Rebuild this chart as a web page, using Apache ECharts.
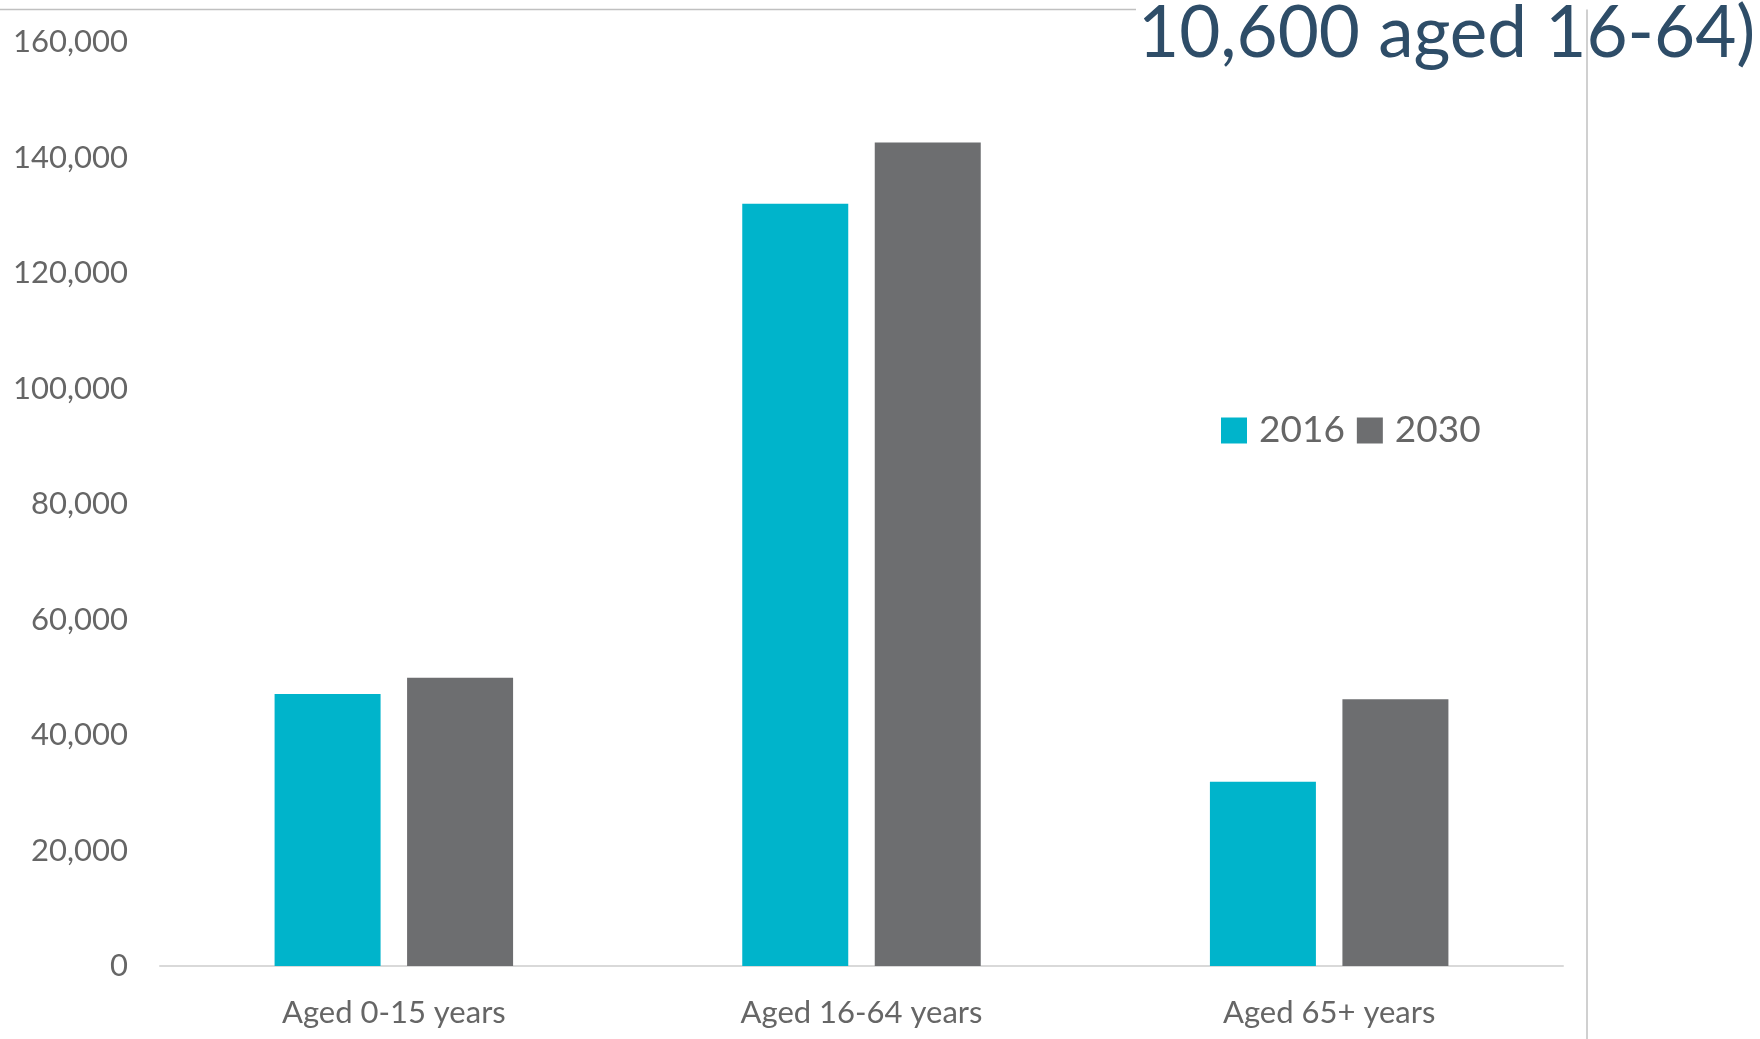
<!DOCTYPE html>
<html>
<head>
<meta charset="utf-8">
<script src="https://cdn.jsdelivr.net/npm/echarts@6/dist/echarts.min.js"></script>
<style>
html,body{margin:0;padding:0;background:#fff;}
#chart{width:1760px;height:1039px;}
</style>
</head>
<body>
<div id="chart"></div>
<script>
const categories = ['Aged 0-15 years', 'Aged 16-64 years', 'Aged 65+ years'];
const seriesNames = ['2016', '2030'];
const values2016 = [47100, 132000, 31900];
const values2030 = [49900, 142600, 46200];
const titleText = '10,600 aged 16-64)';

const FONT = 'Lato, "Open Sans", sans-serif';
const chart = echarts.init(document.getElementById('chart'));
chart.setOption({
  animation: false,
  backgroundColor: '#ffffff',
  grid: { left: 160, right: 197, top: 42, bottom: 73, containLabel: false },
  legend: {
    data: seriesNames,
    left: 1216, top: 407,
    icon: 'rect', itemWidth: 26, itemHeight: 26, itemGap: 12,
    textStyle: { fontFamily: FONT, fontSize: 37, color: '#666666', padding: [0,0,0,7] }
  },
  xAxis: {
    type: 'category', data: categories,
    axisLine: { lineStyle: { color: '#d9d9d9', width: 2 } },
    axisTick: { show: false },
    axisLabel: { fontFamily: FONT, fontSize: 31, color: '#666666', margin: 31 }
  },
  yAxis: {
    type: 'value', min: 0, max: 160000, interval: 20000,
    axisLine: { show: false }, axisTick: { show: false },
    splitLine: { show: false },
    axisLabel: { fontFamily: FONT, fontSize: 31, color: '#666666', margin: 32,
      formatter: v => v.toLocaleString('en-US') }
  },
  series: [
    { name: seriesNames[0], type: 'bar', data: values2016, barWidth: 106, barGap: '25%',
      itemStyle: { color: '#00b4cb' } },
    { name: seriesNames[1], type: 'bar', data: values2030, barWidth: 106,
      itemStyle: { color: '#6d6e70' } }
  ],
  graphic: [
    { type: 'line', shape: { x1: 0, y1: 9.5, x2: 1136, y2: 9.5 }, style: { stroke: '#c0c0c0', lineWidth: 1.5 }, z: 1 },
    { type: 'text', x: 1138, y: -1, z: 2,
      style: { text: titleText, fontFamily: FONT, fontSize: 71, fill: '#2e4d68', verticalAlign: 'top' } },
    { type: 'line', shape: { x1: 1587, y1: 9.5, x2: 1587, y2: 1039 }, style: { stroke: '#c0c0c0', lineWidth: 1.5 }, z: 3 }
  ]
});
</script>
</body>
</html>
